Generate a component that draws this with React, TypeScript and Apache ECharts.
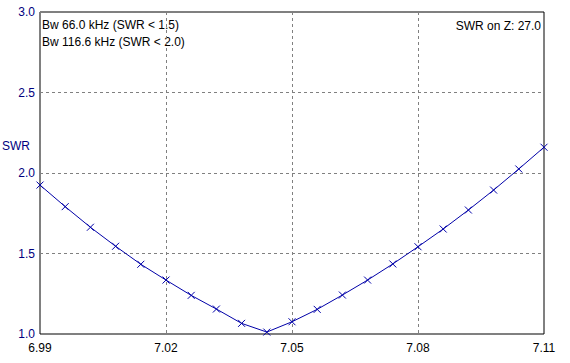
import React, { useEffect, useRef } from "react";
import * as echarts from "echarts";

const freqs = [6.99, 6.996, 7.002, 7.008, 7.014, 7.02, 7.026, 7.032, 7.038, 7.044, 7.05, 7.056, 7.062, 7.068, 7.074, 7.08, 7.086, 7.092, 7.098, 7.104, 7.11];
const swr = [1.925, 1.791, 1.663, 1.545, 1.433, 1.335, 1.24, 1.155, 1.066, 1.012, 1.076, 1.153, 1.242, 1.335, 1.435, 1.542, 1.652, 1.77, 1.894, 2.025, 2.16];
const infoLeft = ["Bw 66.0 kHz (SWR < 1.5)", "Bw 116.6 kHz (SWR < 2.0)"];
const infoRight = "SWR on Z: 27.0";
const yName = "SWR";

const FONT = "'Liberation Sans', Arial, sans-serif";

export default function App() {
  const ref = useRef<HTMLDivElement>(null);
  useEffect(() => {
    if (!ref.current) return;
    const chart = echarts.init(ref.current, null, { renderer: "svg" });
    chart.setOption({
      animation: false,
      backgroundColor: "#ffffff",
      textStyle: { fontFamily: FONT },
      grid: {
        left: 40,
        right: 26,
        top: 12,
        bottom: 29,
        show: true,
        borderColor: "#000000",
        borderWidth: 1,
        backgroundColor: "transparent",
      },
      xAxis: {
        type: "value",
        min: 6.99,
        max: 7.11,
        interval: 0.03,
        axisLine: { show: false },
        axisTick: { show: false },
        axisLabel: {
          color: "#000000",
          fontSize: 12,
          fontFamily: FONT,
          margin: 8,
          formatter: (v: number) => v.toFixed(2),
        },
        splitLine: { show: true, lineStyle: { color: "#808080", type: [3, 3], width: 1 } },
      },
      yAxis: {
        type: "value",
        min: 1,
        max: 3,
        interval: 0.5,
        axisLine: { show: false },
        axisTick: { show: false },
        axisLabel: {
          color: "#000080",
          fontSize: 12,
          fontFamily: FONT,
          margin: 5,
          formatter: (v: number) => v.toFixed(1),
        },
        splitLine: { show: true, lineStyle: { color: "#808080", type: [3, 3], width: 1 } },
      },
      series: [
        {
          type: "line",
          data: freqs.map((f, i) => [f, swr[i]]),
          lineStyle: { color: "#0000a8", width: 1 },
          symbol: "path://M0,0L10,10M10,0L0,10",
          symbolSize: 7,
          showSymbol: true,
          itemStyle: { color: "none", borderColor: "#0000a8", borderWidth: 1 },
        },
      ],
      graphic: [
        {
          type: "text",
          left: 2,
          top: 140,
          style: { text: yName, fill: "#000080", font: `12px ${FONT}` },
        },
        {
          type: "text",
          left: 42,
          top: 19,
          style: { text: infoLeft[0], fill: "#000000", font: `12px ${FONT}` },
        },
        {
          type: "text",
          left: 42,
          top: 36,
          style: { text: infoLeft[1], fill: "#000000", font: `12px ${FONT}` },
        },
        {
          type: "text",
          right: 29,
          top: 20,
          style: { text: infoRight, fill: "#000000", font: `12px ${FONT}` },
        },
      ],
    });
    return () => chart.dispose();
  }, []);
  return <div ref={ref} style={{ width: 570, height: 363, position: "fixed", left: 0, top: 0 }} />;
}
